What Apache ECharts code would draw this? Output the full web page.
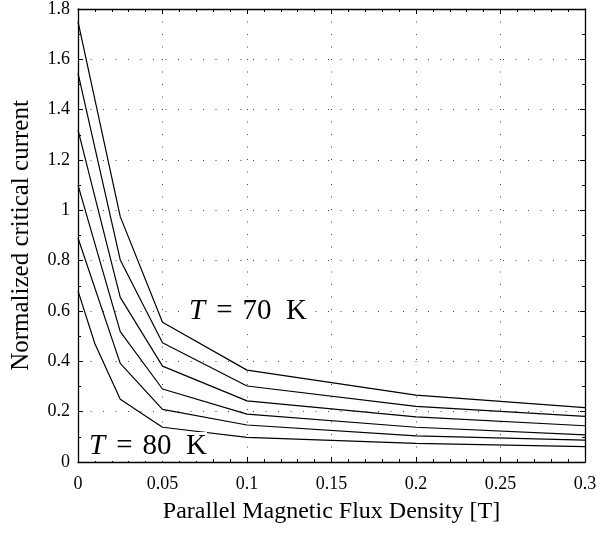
<!DOCTYPE html>
<html>
<head>
<meta charset="utf-8">
<script src="https://cdn.jsdelivr.net/npm/echarts@6/dist/echarts.min.js"></script>
<style>html,body{margin:0;padding:0;background:#fff}#c{width:602px;height:533px}</style>
</head>
<body>
<div id="c"></div>
<script>
// Curves from T = 70 K (top) to T = 80 K (bottom)
const bMain = [0, 0.025, 0.05, 0.1, 0.2, 0.3];
const bLow = [0, 0.01, 0.025, 0.05, 0.1, 0.2, 0.3];
const curve1 = [1.75, 0.975, 0.555, 0.365, 0.266, 0.216];
const curve2 = [1.545, 0.803, 0.474, 0.302, 0.221, 0.181];
const curve3 = [1.32, 0.654, 0.381, 0.243, 0.179, 0.144];
const curve4 = [1.10, 0.518, 0.290, 0.190, 0.138, 0.108];
const curve5 = [0.89, 0.392, 0.209, 0.147, 0.104, 0.087];
const curve6 = [0.68, 0.47, 0.249, 0.138, 0.098, 0.074, 0.061];
const xTicks = ['0', '0.05', '0.1', '0.15', '0.2', '0.25', '0.3'];
const yTicks = ['0', '0.2', '0.4', '0.6', '0.8', '1', '1.2', '1.4', '1.6', '1.8'];

const curvesMain = [curve1, curve2, curve3, curve4, curve5];
const FONT = '"Liberation Serif", "DejaVu Serif", serif';

const chart = echarts.init(document.getElementById('c'), null, {renderer: 'canvas'});

const gridLine = {show: true, lineStyle: {color: '#444', width: 1, type: [1, 11.5]}};
function xAx(pos, main) {
  return {
    type: 'value', position: pos, min: 0, max: 0.3, interval: 0.05,
    axisLine: {show: true, onZero: false, lineStyle: {color: '#000', width: 1.3}},
    axisTick: {show: true, inside: true, length: 5, lineStyle: {color: '#000'}},
    minorTick: {show: true, splitNumber: 5, length: 3, lineStyle: {color: '#000'}},
    splitLine: main ? gridLine : {show: false},
    axisLabel: main ? {show: true, margin: 13, fontFamily: FONT, fontSize: 18, color: '#000',
      formatter: v => xTicks[Math.round(v / 0.05)]} : {show: false},
    name: main ? 'Parallel Magnetic Flux Density [T]' : '',
    nameLocation: 'middle', nameGap: 38, nameMoveOverlap: false,
    nameTextStyle: {fontFamily: FONT, fontSize: 24, color: '#000'}
  };
}
function yAx(pos, main) {
  return {
    type: 'value', position: pos, min: 0, max: 1.8, interval: 0.2,
    axisLine: {show: true, onZero: false, lineStyle: {color: '#000', width: 1.3}},
    axisTick: {show: true, inside: true, length: 5, lineStyle: {color: '#000'}},
    minorTick: {show: true, splitNumber: 2, length: 3, lineStyle: {color: '#000'}},
    splitLine: main ? gridLine : {show: false},
    axisLabel: main ? {show: true, margin: 8, fontFamily: FONT, fontSize: 18, color: '#000',
      formatter: v => yTicks[Math.round(v / 0.2)]} : {show: false},
    name: main ? 'Normalized critical current' : '',
    nameLocation: 'middle', nameGap: 44, nameMoveOverlap: false,
    nameTextStyle: {fontFamily: FONT, fontSize: 25, color: '#000'}
  };
}

const series = curvesMain.map(c => ({
  type: 'line', xAxisIndex: 0, yAxisIndex: 0,
  data: bMain.map((b, i) => [b, c[i]]),
  showSymbol: false, symbol: 'none', smooth: false,
  lineStyle: {color: '#000', width: 1.2}, animation: false
}));
series.push({
  type: 'line', xAxisIndex: 0, yAxisIndex: 0,
  data: bLow.map((b, i) => [b, curve6[i]]),
  showSymbol: false, symbol: 'none', smooth: false,
  lineStyle: {color: '#000', width: 1.2}, animation: false
});

const labelStyle = (txt, x, y) => ({
  type: 'text', left: x, top: y, z: 100,
  style: {
    text: '{i|T}{g|=}{n|' + txt + '}',
    font: '28px ' + FONT, fill: '#000',
    backgroundColor: '#fff',
    rich: {
      i: {fontStyle: 'italic', fontFamily: FONT, fontSize: 29},
      g: {fontFamily: FONT, fontSize: 29, padding: [0, 10, 0, 11]},
      n: {fontFamily: FONT, fontSize: 29}
    }
  }
});

chart.setOption({
  animation: false,
  backgroundColor: '#fff',
  grid: {left: 78, right: 17, top: 9, bottom: 71, containLabel: false},
  xAxis: [xAx('bottom', true), xAx('top', false)],
  yAxis: [yAx('left', true), yAx('right', false)],
  series: series,
  graphic: [
    labelStyle('70\u2002K', 189, 297),
    labelStyle('80\u2002K', 89, 432)
  ]
});
</script>
</body>
</html>
